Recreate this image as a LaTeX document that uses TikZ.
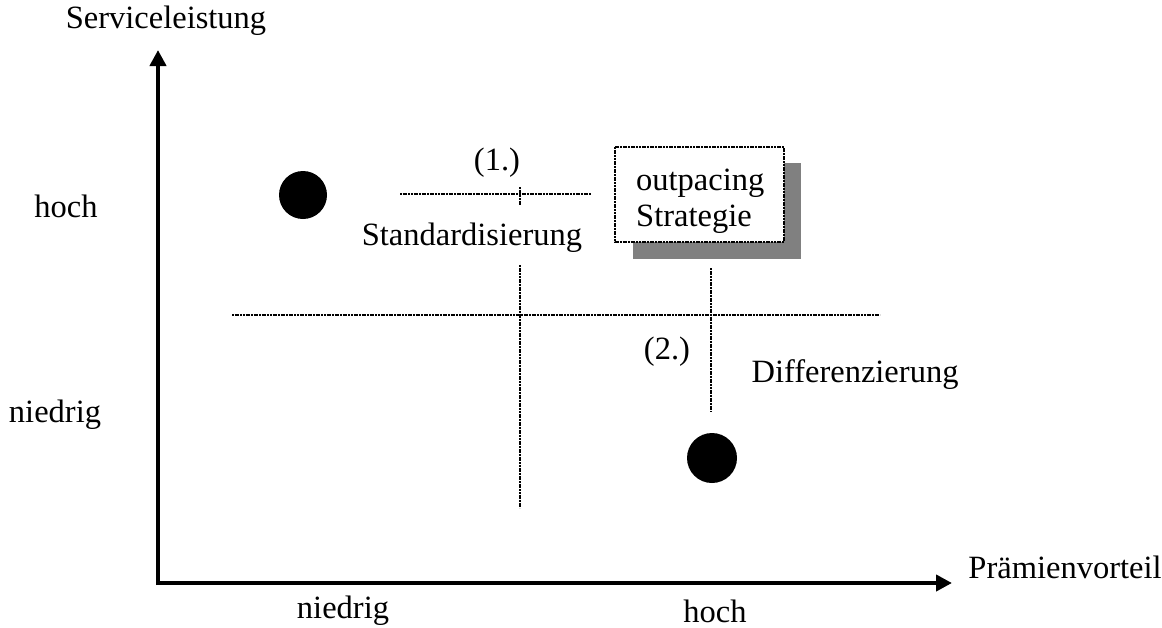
\documentclass[tikz,border=0pt]{standalone}
\usepackage{fontspec}
\setmainfont{Liberation Serif}
\usetikzlibrary{arrows.meta}
\begin{document}
\begin{tikzpicture}[x=1pt,y=-1pt,
  lbl/.style={inner sep=0pt,font=\fontsize{32.5}{36}\selectfont},
  axis/.style={line width=4pt,-{Triangle[length=16pt,width=16pt]}},
  grid/.style={line width=2pt,dash pattern=on 2pt off 0.7pt},
  dot/.style={circle,fill=black,inner sep=0pt,minimum size=#1}]
\useasboundingbox (0,0) rectangle (1162,627);
% axes
\coordinate (o) at (156,583);
\coordinate (ybase) at (158,585);
\coordinate (ytip) at (158,50);
\coordinate (xtip) at (952,583);
\draw[axis] (ybase) -- (ytip);
\draw[axis] (o) -- (xtip);
\node[lbl] (ylab) at (166,21) {Serviceleistung};
\node[lbl] (xlab) at (1065,567) {Prämienvorteil};
\node[lbl] (yhi) at (66,206) {hoch};
\node[lbl] (ylo) at (55,415) {niedrig};
\node[lbl] (xlo) at (343,611) {niedrig};
\node[lbl] (xhi) at (715,611) {hoch};
% grid lines
\coordinate (h1) at (232,315); \coordinate (h2) at (880,315);
\coordinate (s1) at (400,194); \coordinate (s2) at (591,194);
\coordinate (t1) at (520,187); \coordinate (t2) at (520,205);
\coordinate (v1) at (520,265); \coordinate (v2) at (520,508);
\coordinate (w1) at (711,268); \coordinate (w2) at (711,412);
\draw[grid] (h1) -- (h2);
\draw[grid] (s1) -- (s2);
\draw[grid] (t1) -- (t2);
\draw[grid] (v1) -- (v2);
\draw[grid] (w1) -- (w2);
% positions
\node[dot=48pt] (d1) at (303,195) {};
\node[dot=50pt] (d2) at (712,458) {};
\node[lbl] (n1) at (497,163) {(1.)};
\node[lbl] (std) at (472,238) {Standardisierung};
\node[lbl] (n2) at (667,352) {(2.)};
\node[lbl] (diff) at (855,375) {Differenzierung};
% outpacing box with shadow
\fill[black!50] (633,163) rectangle (801,259);
\draw[grid,fill=white,line width=1.6pt] (615,147) rectangle (784,242);
\node[lbl,align=left,anchor=west] (op) at (636,201) {outpacing\\Strategie};
\end{tikzpicture}
\end{document}
